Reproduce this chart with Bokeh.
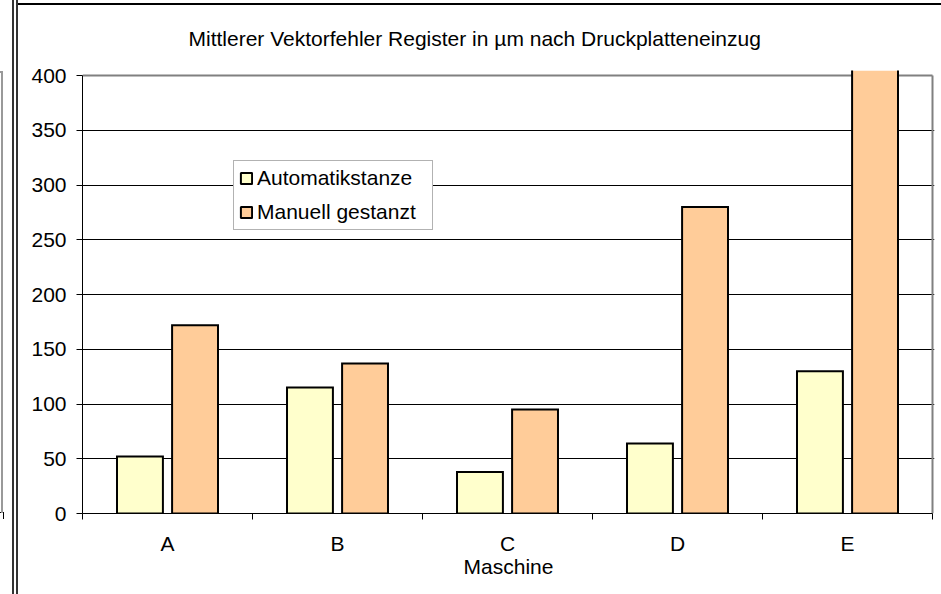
from bokeh.plotting import figure
from bokeh.models import Range1d, FixedTicker, ColumnDataSource
from bokeh.embed import file_html
from bokeh.resources import INLINE
import numpy as np

# ---- data ----
categories = ["A", "B", "C", "D", "E"]
automatik = [52, 115, 38, 64, 130]
manuell = [172, 137, 95, 280, 450]
y_ticks = [0, 50, 100, 150, 200, 250, 300, 350, 400]
series_names = ["Automatikstanze", "Manuell gestanzt"]
title_text = "Mittlerer Vektorfehler Register in µm nach Druckplatteneinzug"
x_title = "Maschine"

FONT = "Liberation Sans"
FS = "21px"
COL_A = "#FFFFCC"
COL_M = "#FFCC99"

n = len(categories)
centers = np.arange(n) + 0.5
bar_w = 0.27
off = 0.162
y_end = y_ticks[-1] * 443 / 438

src = ColumnDataSource(dict(
    xa=centers - off, xm=centers + off, auto=automatik, man=manuell))

p = figure(width=941, height=594, output_backend="svg", toolbar_location=None,
           x_range=Range1d(0, n * 852 / 850), y_range=Range1d(0, y_end),
           min_border_left=82, min_border_right=7, min_border_top=70,
           min_border_bottom=81, outline_line_color=None,
           background_fill_color="white", border_fill_alpha=0)

# decorative chart-area frame lines (outside the plot canvas content)
layers = [
    ("#333333", "12px 0px", "2px 100%"),
    ("#333333", "16px 0px", "2px 100%"),
    ("#000000", "17px 3px", "100% 2px"),
    ("#999999", "1px 71px", "2px 442px"),
    ("#999999", "0px 71px", "3px 2px"),
    ("#000000", "0px 512px", "4px 1px"),
    ("#000000", "3px 512px", "1px 7px"),
]
p.styles = {
    "background-image": ", ".join(f"linear-gradient({c}, {c})" for c, _, _ in layers),
    "background-position": ", ".join(pos for _, pos, _ in layers),
    "background-size": ", ".join(sz for _, _, sz in layers),
    "background-repeat": "no-repeat",
    "background-color": "white",
}

# title
p.title.text = title_text
p.title.align = "left"
p.title.vertical_align = "middle"
p.title.offset = 106
p.title.standoff = 40
p.title.text_font = FONT
p.title.text_font_size = FS
p.title.text_font_style = "normal"
p.title.text_color = "black"

# plot border (gray) at top and right
p.segment(x0=[0, n], y0=[y_ticks[-1], 0], x1=[n, n], y1=[y_ticks[-1], y_ticks[-1]],
          line_color="#808080", line_width=2)

# bars: fill only, outlines drawn separately (bars beyond the axis are open at top)
p.vbar(x="xa", top="auto", width=bar_w, source=src, fill_color=COL_A, line_color=None)
p.vbar(x="xm", top="man", width=bar_w, source=src, fill_color=COL_M, line_color=None)


def outlines(xc, vals):
    xs, ys = [], []
    for x, v in zip(xc, vals):
        l, r = x - bar_w / 2, x + bar_w / 2
        if v <= y_end:
            xs.append([l, l, r, r, l])
            ys.append([0, v, v, 0, 0])
        else:
            xs.append([l, l, r, r])
            ys.append([v, 0, 0, v])
    return xs, ys


for xc, vals in [(centers - off, automatik), (centers + off, manuell)]:
    xs, ys = outlines(xc, vals)
    p.multi_line(xs=xs, ys=ys, line_color="black", line_width=2, line_join="miter")

# legend-only renderers (hidden, provide swatches)
la = p.vbar(x="xa", top="auto", width=bar_w, source=src, fill_color=COL_A,
            line_color="black", line_width=2, legend_label=series_names[0])
lm = p.vbar(x="xm", top="man", width=bar_w, source=src, fill_color=COL_M,
            line_color="black", line_width=2, legend_label=series_names[1])
la.visible = False
lm.visible = False

# x axis
xa = p.xaxis[0]
xa.ticker = FixedTicker(ticks=list(centers), minor_ticks=list(range(n + 1)))
xa.major_label_overrides = {float(c): lab for c, lab in zip(centers, categories)}
xa.major_tick_line_color = None
xa.minor_tick_in = 0
xa.minor_tick_out = 6
xa.minor_tick_line_color = "black"
xa.axis_line_color = "black"
xa.bounds = (0, n)
xa.major_label_standoff = 12
xa.major_label_text_font = FONT
xa.major_label_text_font_size = FS
xa.major_label_text_color = "black"
xa.axis_label = x_title
xa.axis_label_text_font = FONT
xa.axis_label_text_font_size = FS
xa.axis_label_text_font_style = "normal"
xa.axis_label_text_color = "black"
xa.axis_label_standoff = -3

# y axis
ya = p.yaxis[0]
ya.ticker = FixedTicker(ticks=y_ticks, minor_ticks=[])
ya.bounds = (0, y_ticks[-1])
ya.major_tick_in = 0
ya.major_tick_out = 6
ya.major_tick_line_color = "black"
ya.axis_line_color = "black"
ya.major_label_standoff = 10
ya.major_label_text_font = FONT
ya.major_label_text_font_size = FS
ya.major_label_text_color = "black"

p.xgrid.visible = False
p.ygrid.ticker = FixedTicker(ticks=y_ticks[1:-1])
p.ygrid.grid_line_color = "black"
p.ygrid.grid_line_width = 1

# legend
leg = p.legend[0]
leg.location = (151, 283)
leg.margin = 0
leg.padding = 5
leg.spacing = 10
leg.label_height = 24
leg.label_width = 170
leg.glyph_width = 14
leg.glyph_height = 14
leg.label_standoff = 4
leg.label_text_font = FONT
leg.label_text_font_size = FS
leg.label_text_color = "black"
leg.border_line_color = "#666666"
leg.border_line_width = 1
leg.background_fill_color = "white"
leg.background_fill_alpha = 1

open("out.html", "w").write(file_html(p, INLINE))
